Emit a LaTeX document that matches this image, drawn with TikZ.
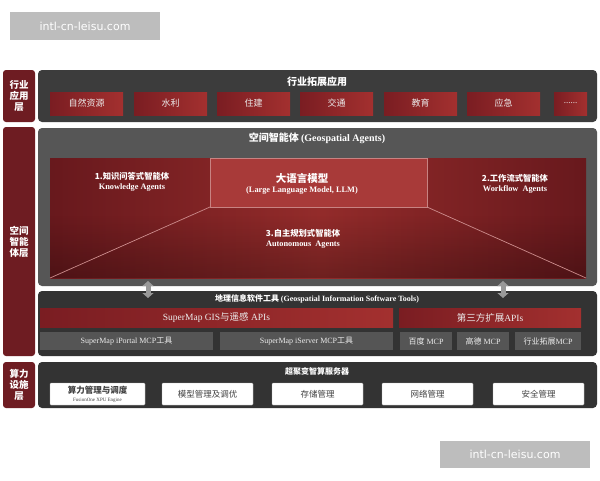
\documentclass[tikz,border=0pt]{standalone}
\usepackage{fontspec}
\setmainfont{Liberation Serif}
\newfontfamily\cjk{Noto Sans CJK SC}
\newfontfamily\wmfont{DejaVu Sans}
\usetikzlibrary{arrows.meta,fadings}
\definecolor{lblred}{HTML}{6E1C22}
\definecolor{panelA}{HTML}{3C3C3C}
\definecolor{panelB}{HTML}{565656}
\definecolor{panelC}{HTML}{333333}
\definecolor{redD}{HTML}{7A1D22}
\definecolor{redL}{HTML}{A3302F}
\definecolor{grayBtn}{HTML}{555555}
\definecolor{wmgray}{HTML}{BDBDBD}
\newcommand\mybox[7]{\node[#2,minimum width={(#5)-(#3)},minimum height={(#6)-(#4)}] (#1) at ({((#3)+(#5))/2},{((#4)+(#6))/2}) {#7};}
\begin{document}
\begin{tikzpicture}[x=1pt,y=-1pt,
  base/.style={inner sep=0pt,outer sep=0pt,align=center},
  lbl/.style={base,fill=lblred,rounded corners=3pt,text=white,font=\cjk\bfseries\fontsize{9.5}{11}\selectfont},
  panel/.style={base,rounded corners=4pt},
  title/.style={inner sep=0pt,text=white,font=\cjk\bfseries\fontsize{10}{12}\selectfont},
  redbtn/.style={base,left color=redD,right color=redL,text=white!85!gray,font=\cjk\fontsize{9}{11}\selectfont},
  redbar/.style={base,left color=redD,right color=redL,text=white!85!gray,font=\fontsize{9.5}{11}\selectfont},
  graybtn/.style={base,fill=grayBtn,text=white!85!gray,font=\fontsize{8}{10}\selectfont},
  whitebtn/.style={base,fill=white,draw=gray!60,rounded corners=1pt,text=black!75,font=\cjk\fontsize{8.5}{10}\selectfont},
  agt/.style={inner sep=0pt,align=center,text=white,font=\fontsize{8.3}{9.5}\selectfont\bfseries},
  wm/.style={base,fill=wmgray,text=white,font=\wmfont\fontsize{11}{13}\selectfont},
  dbl/.style={{Triangle[width=11pt,length=5pt]}-{Triangle[width=11pt,length=5pt]},line width=5pt,draw=gray!80}
]
\useasboundingbox (0,0) rectangle (600,480);
\fill[white] (0,0) rectangle (600,480);

% watermarks
\mybox{wm1}{wm}{10}{12}{160}{40}{intl-cn-leisu.com}
\mybox{wm2}{wm}{440}{441}{590}{468}{intl-cn-leisu.com}

% ---------- row 1 ----------
\mybox{l1}{lbl}{3}{70}{35}{122}{行业\\应用\\层}
\mybox{p1}{panel,fill=panelA}{38}{70}{597}{122}{}
\node[title] (t1) at (317,82) {行业拓展应用};
\mybox{a1}{redbtn}{50}{92}{123}{115}{自然资源}
\mybox{a2}{redbtn}{134}{92}{207}{115}{水利}
\mybox{a3}{redbtn}{217}{92}{290}{115}{住建}
\mybox{a4}{redbtn}{300}{92}{373}{115}{交通}
\mybox{a5}{redbtn}{384}{92}{457}{115}{教育}
\mybox{a6}{redbtn}{467}{92}{540}{115}{应急}
\mybox{a7}{redbtn}{554}{92}{587}{115}{\rmfamily ......}

% ---------- row 2 ----------
\mybox{l2}{lbl}{3}{127}{35}{356}{空间\\智能\\体层}
\mybox{p2}{panel,fill=panelB}{38}{128}{597}{286}{}
\node[title] (t2) at (317,138) {空间智能体 {\rmfamily (Geospatial Agents)}};
\mybox{red}{base,left color=redD!85!black,right color=redD!85!black,middle color=redL!90!black}{50}{158}{586}{278}{}
\fill[black,opacity=0.25,path fading=north] (50,215) rectangle (586,278);
\mybox{llm}{base,fill=redL!95!white,draw=redL!60!white,line width=0.6pt}{210}{158}{427}{207}{}
\draw[redL!55!white,line width=0.7pt] (llm.south west) -- (red.south west);
\draw[redL!55!white,line width=0.7pt] (llm.south east) -- (red.south east);
\node[agt] (k) at (132,182) {{\cjk 1.知识问答式智能体}\\Knowledge Agents};
\node[agt,font=\fontsize{8.3}{10}\selectfont\bfseries] (m) at (302,184) {{\cjk\bfseries\fontsize{10.5}{12}\selectfont 大语言模型}\\(Large Language Model, LLM)};
\node[agt] (w) at (515,184) {{\cjk 2.工作流式智能体}\\Workflow\ \ Agents};
\node[agt] (au) at (303,239) {{\cjk 3.自主规划式智能体}\\Autonomous\ \ Agents};

% ---------- tools ----------
\mybox{p3}{panel,fill=panelC}{38}{291}{597}{356}{}
\node[title,font=\cjk\bfseries\fontsize{8}{10}\selectfont] (t3) at (317,299) {地理信息软件工具 {\rmfamily (Geospatial Information Software Tools)}};
\mybox{g1}{redbar}{40}{308}{393}{327}{SuperMap GIS{\cjk 与遥感} APIs}
\mybox{g2}{redbar}{399}{308}{581}{327}{{\cjk 第三方扩展}APIs}
\mybox{s1}{graybtn}{40}{332}{213}{350}{SuperMap iPortal MCP{\cjk 工具}}
\mybox{s2}{graybtn}{220}{332}{393}{350}{SuperMap iServer MCP{\cjk 工具}}
\mybox{s3}{graybtn}{400}{332}{452}{350}{{\cjk 百度} MCP}
\mybox{s4}{graybtn}{457}{332}{509}{350}{{\cjk 高德} MCP}
\mybox{s5}{graybtn}{515}{332}{581}{350}{{\cjk 行业拓展}MCP}

\coordinate (u1) at (148,281);
\coordinate (d1) at (148,298);
\coordinate (u2) at (503,281);
\coordinate (d2) at (503,298);
\draw[dbl] (u1) -- (d1);
\draw[dbl] (u2) -- (d2);

% ---------- row 3 ----------
\mybox{l3}{lbl}{3}{362}{35}{408}{算力\\设施\\层}
\mybox{p4}{panel,fill=panelC}{38}{362}{597}{408}{}
\node[title,font=\cjk\bfseries\fontsize{8}{10}\selectfont] (t4) at (317,371) {超聚变智算服务器};
\mybox{b1}{whitebtn}{50}{383}{145}{405}{{\bfseries 算力管理与调度}\\[-2pt]{\rmfamily\fontsize{5}{6}\selectfont FusionOne XPU Engine}}
\mybox{b2}{whitebtn}{162}{383}{253}{405}{模型管理及调优}
\mybox{b3}{whitebtn}{272}{383}{363}{405}{存储管理}
\mybox{b4}{whitebtn}{382}{383}{473}{405}{网络管理}
\mybox{b5}{whitebtn}{493}{383}{584}{405}{安全管理}
\end{tikzpicture}
\end{document}
